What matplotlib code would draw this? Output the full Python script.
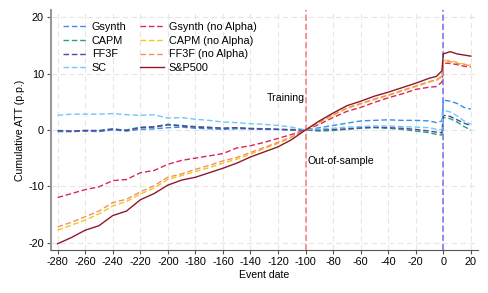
import matplotlib
matplotlib.use("Agg")
import matplotlib.pyplot as plt

plt.rcParams['font.family'] = ['Liberation Sans', 'DejaVu Sans']
plt.rcParams['axes.unicode_minus'] = False

days = [-280, -270, -260, -250, -240, -230, -220, -210, -200, -190, -180, -170, -160, -150,
        -140, -130, -120, -110, -100, -90, -80, -70, -60, -50, -40, -30, -20, -10, -5, -1,
        0, 5, 10, 15, 20]

gsynth = [-0.3, -0.3, -0.2, -0.3, 0.0, -0.2, 0.1, 0.2, 0.4, 0.5, 0.3, 0.2, 0.1, 0.2,
          0.2, 0.1, 0.1, 0.0, 0.0, 0.4, 0.8, 1.2, 1.6, 1.7, 1.8, 1.7, 1.7, 1.6, 1.3, 1.6,
          5.3, 5.1, 4.7, 4.0, 3.7]
capm = [-0.2, -0.2, -0.1, -0.2, 0.1, 0.0, 0.5, 0.6, 1.0, 0.8, 0.6, 0.5, 0.3, 0.4,
        0.3, 0.2, 0.1, 0.1, 0.0, -0.2, -0.1, 0.1, 0.3, 0.4, 0.3, 0.1, -0.2, -0.5, -0.8, -0.9,
        2.2, 2.0, 1.4, 0.6, 0.0]
ff3f = [-0.1, -0.2, -0.1, -0.1, 0.2, -0.1, 0.4, 0.5, 0.9, 0.7, 0.5, 0.4, 0.3, 0.4,
        0.2, 0.2, 0.1, 0.0, 0.0, 0.0, 0.1, 0.2, 0.4, 0.5, 0.4, 0.3, 0.1, -0.2, -0.4, -0.5,
        2.6, 2.4, 1.8, 1.2, 0.8]
sc = [2.6, 2.8, 2.8, 2.8, 2.9, 2.7, 2.6, 2.7, 2.1, 2.2, 1.9, 1.7, 1.4, 1.3,
      1.1, 1.0, 0.8, 0.5, 0.0, 0.2, 0.3, 0.5, 0.6, 0.7, 0.7, 0.6, 0.5, 0.4, 0.1, 0.0,
      3.5, 3.2, 2.5, 1.6, 1.0]
gsynth_na = [-12.0, -11.3, -10.6, -10.1, -9.0, -8.8, -7.6, -7.2, -6.1, -5.4, -5.0, -4.6, -4.2, -3.2,
             -2.8, -2.2, -1.5, -0.8, 0.0, 1.0, 2.2, 3.3, 4.0, 4.9, 5.7, 6.4, 7.2, 7.6, 7.7, 8.5,
             11.9, 11.8, 11.6, 11.3, 11.2]
capm_na = [-17.8, -16.9, -16.0, -14.9, -13.5, -12.7, -11.4, -10.3, -8.8, -8.1, -7.4, -6.7, -5.9, -5.2,
           -4.3, -3.3, -2.4, -1.3, 0.0, 1.3, 2.6, 3.8, 4.6, 5.4, 6.1, 6.9, 7.7, 8.5, 8.8, 9.4,
           12.4, 12.3, 12.0, 11.7, 11.5]
ff3f_na = [-17.2, -16.4, -15.4, -14.4, -12.9, -12.3, -11.0, -9.9, -8.4, -7.8, -7.0, -6.3, -5.5, -4.9,
           -4.0, -3.1, -2.2, -1.2, 0.0, 1.4, 2.7, 3.9, 4.7, 5.5, 6.2, 7.0, 7.8, 8.6, 8.9, 9.6,
           12.2, 12.1, 11.8, 11.6, 11.4]
sp500 = [-20.2, -19.1, -17.8, -17.0, -15.2, -14.4, -12.4, -11.3, -9.8, -8.9, -8.4, -7.6, -6.8, -5.9,
         -4.8, -3.9, -3.0, -1.7, 0.0, 1.6, 3.0, 4.3, 5.1, 6.0, 6.7, 7.5, 8.3, 9.2, 9.5, 10.5,
         13.5, 13.9, 13.5, 13.3, 13.1]

xticks = list(range(-280, 21, 20))
yticks = [-20, -10, 0, 10, 20]

fig = plt.figure(figsize=(4.88, 2.93), dpi=100)
ax = fig.add_axes([0.104, 0.147, 0.875, 0.819])

dash = (0, (4, 2))
series = [
    ("Gsynth", gsynth, "#3b8ee8", dash),
    ("CAPM", capm, "#1fa774", dash),
    ("FF3F", ff3f, "#5b3fa8", dash),
    ("SC", sc, "#6fc8f5", dash),
    ("Gsynth (no Alpha)", gsynth_na, "#d8285e", dash),
    ("CAPM (no Alpha)", capm_na, "#f5c518", dash),
    ("FF3F (no Alpha)", ff3f_na, "#f4905f", dash),
    ("S&P500", sp500, "#8b1a2b", "-"),
]
for name, vals, col, ls in series:
    ax.plot(days, vals, color=col, linestyle=ls, linewidth=1.0, label=name, zorder=3)

ax.axvline(-100, color="#f27a7a", linestyle=(0, (4, 2)), linewidth=1.1, zorder=2)
ax.axvline(0, color="#6f6ff2", linestyle=(0, (4, 2)), linewidth=1.1, zorder=2)

ax.text(-100.5, 5.6, "Training", ha="right", va="center", fontsize=7.6)
ax.text(-98.5, -5.6, "Out-of-sample", ha="left", va="center", fontsize=7.6)

ax.set_xlim(-285, 25)
ax.set_ylim(-21.3, 21.3)
ax.set_xticks(xticks)
ax.set_yticks(yticks)
ax.tick_params(labelsize=7.8, length=3, width=0.8, color="#555555", pad=2)
ax.grid(True, color="#e6e6e6", linestyle=(0, (5, 3)), linewidth=0.8, zorder=0)
ax.set_axisbelow(True)

for s in ["top", "right"]:
    ax.spines[s].set_visible(False)
ax.spines["left"].set_color("#999999")
ax.spines["left"].set_linewidth(1.5)
ax.spines["bottom"].set_color("#555555")
ax.spines["bottom"].set_linewidth(0.8)

ax.set_xlabel("Event date", fontsize=7.6, labelpad=2)
ax.set_ylabel("Cumulative ATT (p.p.)", fontsize=7.6, labelpad=2)

ax.legend(ncol=2, loc="upper left", frameon=False, fontsize=7.8,
          handlelength=2.2, handletextpad=0.5, columnspacing=1.2,
          labelspacing=0.35, borderaxespad=0.7, bbox_to_anchor=(0.0, 1.0))

fig.savefig("out.png", dpi=100)
